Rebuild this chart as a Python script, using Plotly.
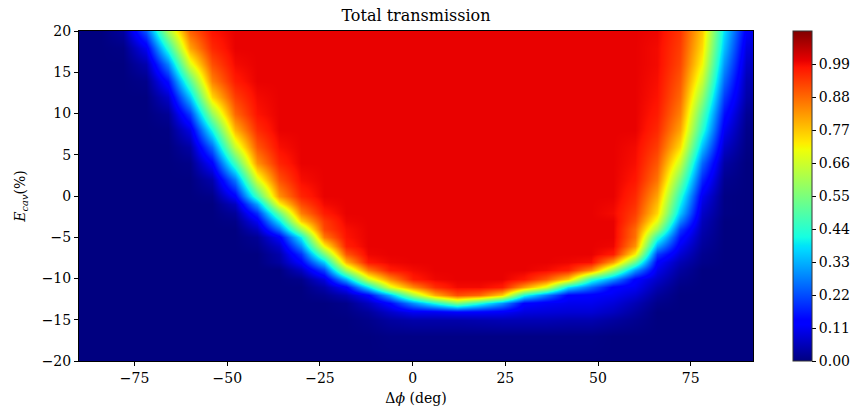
import numpy as np
import plotly.graph_objects as go

# ---- data ----
phi_deg = [-90, -84, -78, -72, -66, -60, -54, -48, -42, -36, -30, -24, -18, -12, -6,
           0, 6, 12, 18, 24, 30, 36, 42, 48, 54, 60, 66, 72, 78, 84, 90, 92]

e_cav = [-20, -17, -15, -14, -13, -12, -11, -10, -9, -8, -7, -6, -5, -4, -3, -2, -1, 0,
         2, 4, 6, 8, 10, 12, 14, 16, 18, 20]

transmission = [
    # y = -20
    [0, 0, 0, 0, 0, 0, 0, 0, 0, 0, 0, 0, 0, 0, 0, 0, 0, 0, 0, 0, 0, 0, 0, 0, 0, 0, 0, 0, 0, 0, 0, 0],
    # y = -17
    [0, 0, 0, 0, 0, 0, 0, 0, 0, 0, 0, 0, 0, 0, 0.005, 0.005, 0.005, 0.005, 0.005, 0.005, 0.005, 0.005, 0.005, 0.005, 0, 0, 0, 0, 0, 0, 0, 0],
    # y = -15
    [0, 0, 0, 0, 0, 0, 0, 0, 0, 0, 0, 0, 0, 0.01, 0.03, 0.04, 0.04, 0.04, 0.045, 0.05, 0.05, 0.05, 0.045, 0.045, 0.03, 0.015, 0, 0, 0, 0, 0, 0],
    # y = -14
    [0, 0, 0, 0, 0, 0, 0, 0, 0, 0, 0, 0, 0.005, 0.025, 0.07, 0.11, 0.11, 0.12, 0.12, 0.115, 0.09, 0.085, 0.08, 0.08, 0.06, 0.03, 0, 0, 0, 0, 0, 0],
    # y = -13
    [0, 0, 0, 0, 0, 0, 0, 0, 0, 0, 0, 0, 0.01, 0.06, 0.14, 0.29, 0.42, 0.55, 0.43, 0.30, 0.13, 0.115, 0.105, 0.105, 0.085, 0.05, 0.01, 0, 0, 0, 0, 0],
    # y = -12
    [0, 0, 0, 0, 0, 0, 0, 0, 0, 0, 0, 0.015, 0.05, 0.13, 0.33, 0.60, 0.80, 0.91, 0.88, 0.76, 0.42, 0.27, 0.13, 0.125, 0.11, 0.08, 0.025, 0, 0, 0, 0, 0],
    # y = -11
    [0, 0, 0, 0, 0, 0, 0, 0, 0, 0, 0, 0.04, 0.13, 0.38, 0.68, 0.84, 0.95, 0.99, 0.99, 0.97, 0.82, 0.68, 0.38, 0.25, 0.13, 0.11, 0.045, 0.005, 0, 0, 0, 0],
    # y = -10
    [0, 0, 0, 0, 0, 0, 0, 0, 0, 0, 0.01, 0.09, 0.33, 0.66, 0.84, 0.97, 0.995, 1, 1, 1, 0.975, 0.90, 0.77, 0.45, 0.30, 0.13, 0.07, 0.015, 0, 0, 0, 0],
    # y = -9
    [0, 0, 0, 0, 0, 0, 0, 0, 0, 0, 0.06, 0.21, 0.60, 0.86, 0.97, 0.99, 1, 1, 1, 1, 1, 0.99, 0.965, 0.84, 0.58, 0.30, 0.10, 0.03, 0, 0, 0, 0],
    # y = -8
    [0, 0, 0, 0, 0, 0, 0, 0, 0, 0.03, 0.13, 0.36, 0.79, 0.975, 0.995, 1, 1, 1, 1, 1, 1, 1, 0.995, 0.985, 0.82, 0.52, 0.13, 0.05, 0.01, 0, 0, 0],
    # y = -7
    [0, 0, 0, 0, 0, 0, 0, 0, 0, 0.04, 0.19, 0.54, 0.90, 0.995, 1, 1, 1, 1, 1, 1, 1, 1, 1, 1, 0.97, 0.72, 0.20, 0.08, 0.015, 0, 0, 0],
    # y = -6
    [0, 0, 0, 0, 0, 0, 0, 0, 0.01, 0.07, 0.29, 0.71, 0.965, 1, 1, 1, 1, 1, 1, 1, 1, 1, 1, 1, 0.995, 0.83, 0.32, 0.11, 0.025, 0, 0, 0],
    # y = -5
    [0, 0, 0, 0, 0, 0, 0, 0, 0.02, 0.12, 0.40, 0.86, 0.98, 1, 1, 1, 1, 1, 1, 1, 1, 1, 1, 1, 1, 0.87, 0.45, 0.15, 0.035, 0, 0, 0],
    # y = -4
    [0, 0, 0, 0, 0, 0, 0, 0, 0.06, 0.26, 0.60, 0.92, 0.985, 1, 1, 1, 1, 1, 1, 1, 1, 1, 1, 1, 1, 0.88, 0.60, 0.20, 0.045, 0, 0, 0],
    # y = -3
    [0, 0, 0, 0, 0, 0, 0, 0.008, 0.11, 0.385, 0.76, 0.935, 0.995, 1, 1, 1, 1, 1, 1, 1, 1, 1, 1, 1, 1, 0.91, 0.69, 0.28, 0.055, 0, 0, 0],
    # y = -2
    [0, 0, 0, 0, 0, 0, 0, 0.025, 0.185, 0.52, 0.855, 0.97, 1, 1, 1, 1, 1, 1, 1, 1, 1, 1, 1, 1, 0.99, 0.93, 0.75, 0.35, 0.07, 0.005, 0, 0],
    # y = -1
    [0, 0, 0, 0, 0, 0, 0, 0.06, 0.31, 0.71, 0.915, 0.99, 1, 1, 1, 1, 1, 1, 1, 1, 1, 1, 1, 1, 0.995, 0.945, 0.78, 0.40, 0.09, 0.005, 0, 0],
    # y = 0
    [0, 0, 0, 0, 0, 0, 0.008, 0.13, 0.47, 0.83, 0.96, 1, 1, 1, 1, 1, 1, 1, 1, 1, 1, 1, 1, 1, 1, 0.955, 0.81, 0.44, 0.11, 0.005, 0, 0],
    # y = 2
    [0, 0, 0, 0, 0, 0, 0.04, 0.265, 0.67, 0.905, 0.987, 1, 1, 1, 1, 1, 1, 1, 1, 1, 1, 1, 1, 1, 1, 0.975, 0.865, 0.54, 0.175, 0.015, 0, 0],
    # y = 4
    [0, 0, 0, 0, 0, 0.008, 0.13, 0.47, 0.83, 0.96, 1, 1, 1, 1, 1, 1, 1, 1, 1, 1, 1, 1, 1, 1, 1, 0.985, 0.90, 0.65, 0.25, 0.035, 0, 0],
    # y = 6
    [0, 0, 0, 0, 0, 0.035, 0.25, 0.65, 0.90, 0.985, 1, 1, 1, 1, 1, 1, 1, 1, 1, 1, 1, 1, 1, 1, 1, 0.99, 0.93, 0.745, 0.345, 0.07, 0.005, 0.003],
    # y = 8
    [0, 0, 0, 0, 0.003, 0.095, 0.41, 0.79, 0.95, 1, 1, 1, 1, 1, 1, 1, 1, 1, 1, 1, 1, 1, 1, 1, 1, 1, 0.955, 0.81, 0.44, 0.11, 0.01, 0.008],
    # y = 10
    [0, 0, 0, 0, 0.02, 0.20, 0.58, 0.88, 0.98, 1, 1, 1, 1, 1, 1, 1, 1, 1, 1, 1, 1, 1, 1, 1, 1, 1, 0.97, 0.85, 0.50, 0.15, 0.02, 0.015],
    # y = 12
    [0, 0, 0, 0, 0.07, 0.35, 0.75, 0.93, 0.99, 1, 1, 1, 1, 1, 1, 1, 1, 1, 1, 1, 1, 1, 1, 1, 1, 1, 0.98, 0.88, 0.58, 0.20, 0.04, 0.03],
    # y = 14
    [0, 0, 0, 0.01, 0.15, 0.50, 0.85, 0.97, 1, 1, 1, 1, 1, 1, 1, 1, 1, 1, 1, 1, 1, 1, 1, 1, 1, 1, 0.985, 0.90, 0.65, 0.25, 0.05, 0.045],
    # y = 16
    [0, 0, 0, 0.045, 0.28, 0.68, 0.91, 0.99, 1, 1, 1, 1, 1, 1, 1, 1, 1, 1, 1, 1, 1, 1, 1, 1, 1, 1, 0.99, 0.92, 0.71, 0.30, 0.07, 0.06],
    # y = 18
    [0, 0, 0.005, 0.11, 0.44, 0.81, 0.955, 1, 1, 1, 1, 1, 1, 1, 1, 1, 1, 1, 1, 1, 1, 1, 1, 1, 1, 1, 0.99, 0.93, 0.745, 0.345, 0.09, 0.08],
    # y = 20
    [0, 0, 0.03, 0.23, 0.61, 0.89, 0.98, 1, 1, 1, 1, 1, 1, 1, 1, 1, 1, 1, 1, 1, 1, 1, 1, 1, 1, 1, 0.995, 0.94, 0.77, 0.38, 0.12, 0.10],
]

x_ticks = [-75, -50, -25, 0, 25, 50, 75]
y_ticks = [-20, -15, -10, -5, 0, 5, 10, 15, 20]
cbar_ticks = [0.00, 0.11, 0.22, 0.33, 0.44, 0.55, 0.66, 0.77, 0.88, 0.99]

assert len(transmission) == len(e_cav)
for row in transmission:
    assert len(row) == len(phi_deg), len(row)

# ---- matplotlib-style "jet" colour scale ----
pos = [0, 0.11, 0.125, 0.34, 0.35, 0.375, 0.64, 0.65, 0.66, 0.89, 0.91, 1.0]
r = np.interp(pos, [0, 0.35, 0.66, 0.89, 1], [0, 0, 1, 1, 0.5])
g = np.interp(pos, [0, 0.125, 0.375, 0.64, 0.91, 1], [0, 0, 1, 1, 0, 0])
b = np.interp(pos, [0, 0.11, 0.34, 0.65, 1], [0.5, 1, 1, 0, 0])
jet = [[p, f"rgb({int(round(rr*255))},{int(round(gg*255))},{int(round(bb*255))})"]
       for p, rr, gg, bb in zip(pos, r, g, b)]

L, R, T, B = 79, 105, 31, 47
W, H = 858, 408
plot_w = W - L - R

fig = go.Figure(go.Heatmap(
    x=phi_deg, y=e_cav, z=transmission,
    zmin=0, zmax=1.1, zsmooth='best', colorscale=jet,
    colorbar=dict(
        x=(793 - L) / plot_w, xanchor='left', xpad=0,
        y=0.5, yanchor='middle', len=1, lenmode='fraction', ypad=0,
        thickness=19, outlinewidth=1, outlinecolor='#333333',
        tickmode='array', tickvals=cbar_ticks, tickformat='.2f',
        ticks='outside', ticklen=4, tickcolor='black',
        tickfont=dict(size=14, family='DejaVu Serif', color='black'),
    ),
))

axis_common = dict(showline=True, mirror=True, linecolor='black', linewidth=1,
                   ticks='outside', ticklen=4, tickwidth=1, tickcolor='black',
                   showgrid=False, zeroline=False, automargin=False,
                   tickfont=dict(size=14, family='DejaVu Serif', color='black'))

fig.update_layout(
    width=W, height=H,
    margin=dict(l=L, r=R, t=T, b=B, autoexpand=False),
    paper_bgcolor='white', plot_bgcolor='white',
    font=dict(family='DejaVu Serif', size=14, color='black'),
    title=dict(text='Total transmission', x=(L + W - R) / 2 / W, xanchor='center',
               y=1 - 15 / H, yanchor='middle', yref='container', automargin=False,
               font=dict(size=16, family='DejaVu Serif', color='black')),
    xaxis=dict(range=[-90, 91.8], tickvals=x_ticks,
               title=dict(text='Δ<i>ϕ</i> (deg)', standoff=8,
                          font=dict(size=14, family='DejaVu Serif')),
               **axis_common),
    yaxis=dict(range=[-20, 20], tickvals=y_ticks,
               title=dict(text='<i>E</i><sub><i>cav</i></sub>(%)', standoff=12,
                          font=dict(size=14, family='DejaVu Serif')),
               **axis_common),
)

fig.write_html("out.html", config={'displayModeBar': False},
               post_script="document.body.style.margin='0px';document.body.style.padding='0px';")
